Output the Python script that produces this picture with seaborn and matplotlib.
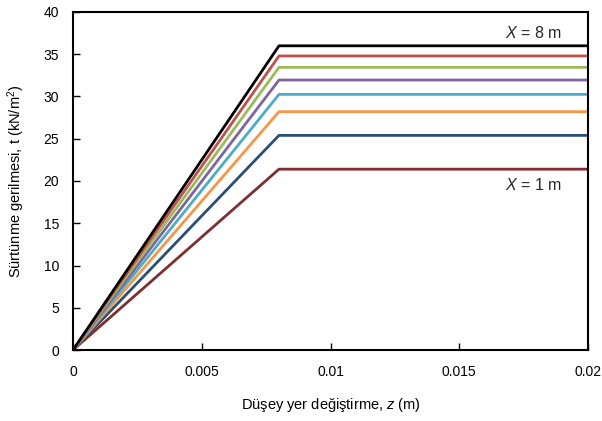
import matplotlib
matplotlib.use("Agg")
import matplotlib.pyplot as plt
import seaborn as sns
import pandas as pd

sns.set_theme(style="white")
plt.rcParams['font.family'] = ['Liberation Sans', 'DejaVu Sans']
plt.rcParams['mathtext.fontset'] = 'custom'
plt.rcParams['mathtext.rm'] = 'Liberation Sans'
plt.rcParams['mathtext.it'] = 'Liberation Sans:italic'

# data
z_points = [0.0, 0.008, 0.02]
peak_values = [21.4, 25.4, 28.2, 30.25, 31.95, 33.45, 34.8, 36.0]
series_names = ["X=1", "X=2", "X=3", "X=4", "X=5", "X=6", "X=7", "X=8"]
colors = ["#7F2E2E", "#2C4D75", "#F79646", "#4BACC6", "#8064A2", "#9BBB59", "#C0504D", "#000000"]
x_ticks = [0, 0.005, 0.01, 0.015, 0.02]
x_tick_labels = ["0", "0.005", "0.01", "0.015", "0.02"]
y_ticks = [0, 5, 10, 15, 20, 25, 30, 35, 40]

rows = []
for name, v in zip(series_names, peak_values):
    for zz, t in zip(z_points, [0.0, v, v]):
        rows.append({"z": zz, "t": t, "series": name})
df = pd.DataFrame(rows)

fig = plt.figure(figsize=(6.02, 4.21), dpi=100)
ax = fig.add_axes([73/602, 71/421, 515/602, 338/421])
sns.lineplot(data=df, x="z", y="t", hue="series", palette=colors,
             legend=False, ax=ax, linewidth=2, sort=False)

ax.set_xlim(0, 0.02)
ax.set_ylim(0, 40)
ax.set_xticks(x_ticks)
ax.set_xticklabels(x_tick_labels)
ax.set_yticks(y_ticks)
for s in ax.spines.values():
    s.set_color("black")
    s.set_linewidth(1.5)
ax.tick_params(direction="in", length=5, width=1, colors="black", labelsize=10,
               left=True, bottom=True, pad=11)
ax.tick_params(axis="y", pad=10)
ax.set_xlabel("Düşey yer değiştirme, $\\it{z}$ (m)", fontsize=10.5, color="black", labelpad=12)
ax.set_ylabel("Sürtünme gerilmesi, t (kN/m$^2$)", fontsize=10.5, color="black", labelpad=12)

ax.text(0.0190, 37.5, "$\\it{X}$ = 8 m", fontsize=11.5, ha="right", va="center")
ax.text(0.0190, 19.5, "$\\it{X}$ = 1 m", fontsize=11.5, ha="right", va="center")

fig.savefig("out.png", dpi=100)
